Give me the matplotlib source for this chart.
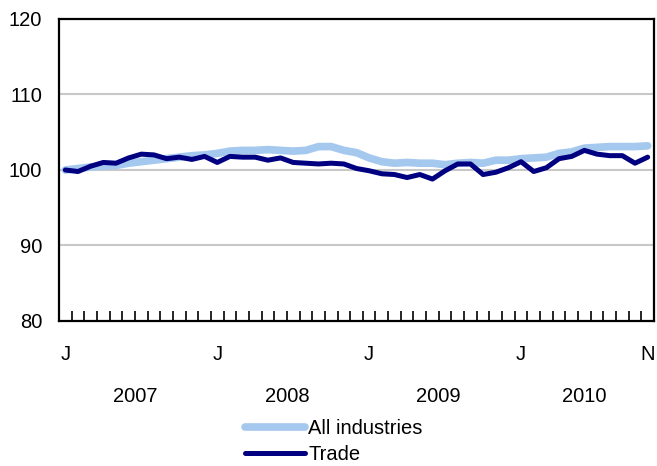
import numpy as np
import matplotlib.pyplot as plt
from matplotlib.ticker import FixedLocator
import matplotlib.transforms as mtransforms

plt.rcParams["font.family"] = ["Liberation Sans", "DejaVu Sans"]

# monthly index, Jan 2007 to Nov 2010 (Jan 2007 = 100)
all_industries = [
    100.0, 100.2, 100.4, 100.5, 100.6, 100.9, 101.1, 101.3, 101.5, 101.7,
    101.9, 102.0, 102.2, 102.5, 102.6, 102.6, 102.7, 102.6, 102.5, 102.6,
    103.1, 103.1, 102.6, 102.3, 101.6, 101.1, 100.9, 101.0, 100.9, 100.9,
    100.7, 100.9, 101.0, 100.9, 101.3, 101.3, 101.5, 101.6, 101.7, 102.2,
    102.4, 102.9, 103.0, 103.1, 103.1, 103.1, 103.2,
]
trade = [
    100.0, 99.8, 100.5, 101.0, 100.9, 101.6, 102.1, 102.0, 101.5, 101.7,
    101.4, 101.8, 101.0, 101.8, 101.7, 101.7, 101.3, 101.6, 101.0, 100.9,
    100.8, 100.9, 100.8, 100.2, 99.9, 99.5, 99.4, 99.0, 99.4, 98.8,
    99.9, 100.8, 100.8, 99.4, 99.7, 100.3, 101.1, 99.8, 100.3, 101.5,
    101.8, 102.6, 102.1, 101.9, 101.9, 100.9, 101.7,
]
month_labels = {0: "J", 12: "J", 24: "J", 36: "J", 46: "N"}
years = ["2007", "2008", "2009", "2010"]
year_centers = [5.5, 17.5, 29.5, 41.0]

x = np.arange(len(trade))

fig = plt.figure(figsize=(6.57, 4.66), dpi=100)
ax = fig.add_axes([59 / 657, 1 - 321 / 466, 595 / 657, 302 / 466])

ax.plot(x, all_industries, color="#A4C8EE", lw=5.5, solid_capstyle="round",
        label="All industries", zorder=3)
ax.plot(x, trade, color="#000080", lw=3.6, solid_capstyle="round",
        label="Trade", zorder=4)

ax.set_xlim(-0.5, len(trade) - 0.5)
ax.set_ylim(80, 120)
ax.set_yticks([80, 90, 100, 110, 120])
for v in [90, 100, 110]:
    ax.axhline(v, color="#C8C8C8", lw=1.5, zorder=1)

ax.xaxis.set_major_locator(FixedLocator(list(month_labels.keys())))
ax.set_xticklabels(list(month_labels.values()))
ax.xaxis.set_minor_locator(FixedLocator(np.arange(-0.5, len(trade), 1.0)))
ax.tick_params(axis="x", which="major", length=0, pad=17, labelsize=14.5)
ax.tick_params(axis="x", which="minor", direction="in", length=7, width=1.2,
               color="black")
ax.tick_params(axis="y", length=0, pad=12, labelsize=14.5)

for s in ax.spines.values():
    s.set_linewidth(1.6)
    s.set_color("black")

trans = mtransforms.blended_transform_factory(ax.transData, ax.transAxes)
for yr, c in zip(years, year_centers):
    ax.text(c, -0.25, yr, transform=trans, ha="center", va="center",
            fontsize=14.5)

fig.legend(loc="upper left", bbox_to_anchor=(245 / 657, 1 - 419 / 466),
           frameon=False, fontsize=14.5, handlelength=3.0, handletextpad=0.15,
           labelspacing=0.35, borderpad=0, borderaxespad=0)

fig.savefig("out.png", dpi=100)
